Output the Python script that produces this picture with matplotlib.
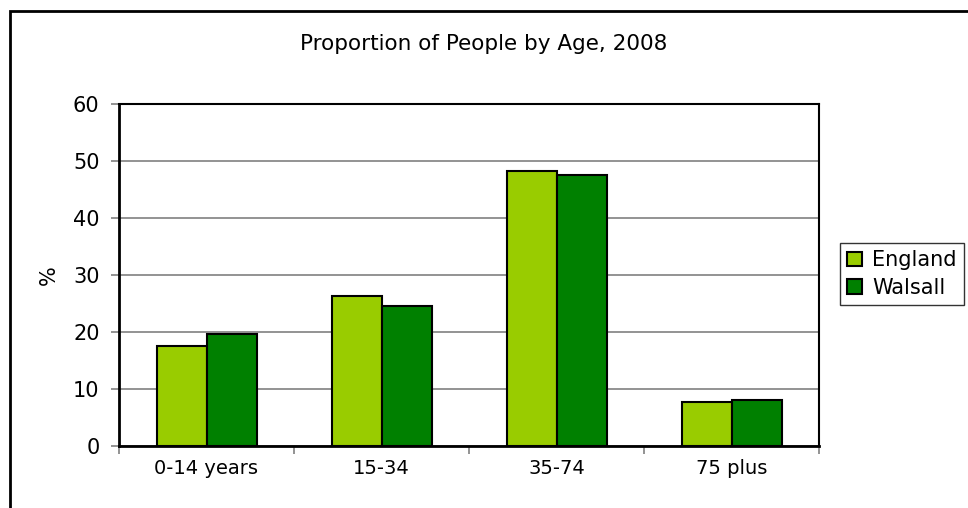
import matplotlib.pyplot as plt
import numpy as np
from matplotlib.patches import Rectangle

# values
categories = ["0-14 years", "15-34", "35-74", "75 plus"]
england = [17.6, 26.3, 48.2, 7.7]
walsall = [19.6, 24.6, 47.6, 8.0]
yticks = [0, 10, 20, 30, 40, 50, 60]

W, H = 968, 508
fig = plt.figure(figsize=(W / 100, H / 100), dpi=100)
plt.rcParams['font.family'] = 'DejaVu Sans'

# outer chart frame (runs off the right and bottom edges)
fig.patches.append(Rectangle((10 / W, -0.1), 1.2, 1.1 - 11 / H,
                             transform=fig.transFigure, fill=False,
                             edgecolor='black', linewidth=2, zorder=0))

ax = fig.add_axes([119 / W, 1 - 446 / H, 700 / W, 342 / H])

x = np.arange(len(categories))
w = 50 / 175
ax.bar(x - w / 2, england, width=w, color='#99CC00', edgecolor='black',
       linewidth=1.5, label='England', zorder=3)
ax.bar(x + w / 2, walsall, width=w, color='#008000', edgecolor='black',
       linewidth=1.5, label='Walsall', zorder=3)

ax.set_xlim(-0.5, len(categories) - 0.5)
ax.set_ylim(0, 60)
ax.set_yticks(yticks)
ax.yaxis.grid(True, color='#808080', linewidth=1.2, zorder=0)

# category boundaries get tick marks, labels sit at group centres
ax.set_xticks(np.arange(len(categories) + 1) - 0.5)
ax.set_xticklabels([])
ax.set_xticks(x, minor=True)
ax.set_xticklabels(categories, minor=True)
ax.tick_params(axis='x', which='minor', length=0, pad=9, labelsize=14)
ax.tick_params(axis='x', which='major', length=6, width=1.2, color='#808080')
ax.tick_params(axis='y', length=6, width=1.2, color='#808080', labelsize=15, pad=8)

for s in ['left', 'bottom']:
    ax.spines[s].set_linewidth(2)
    ax.spines[s].set_color('black')
for s in ['top', 'right']:
    ax.spines[s].set_linewidth(1.5)
    ax.spines[s].set_color('black')

ax.set_ylabel('%', fontsize=15, labelpad=10)

fig.text(0.5, 1 - 44 / H, 'Proportion of People by Age, 2008', ha='center',
         va='center', fontsize=15.5)

leg = fig.legend(loc='upper left', bbox_to_anchor=(840 / W, 1 - 243 / H),
                 fontsize=15, frameon=True, fancybox=False, handlelength=0.7,
                 handleheight=0.7, handletextpad=0.5, borderpad=0.35,
                 labelspacing=0.35, borderaxespad=0)
leg.get_frame().set_edgecolor('black')
leg.get_frame().set_linewidth(1)

fig.savefig('out.png', dpi=100)
